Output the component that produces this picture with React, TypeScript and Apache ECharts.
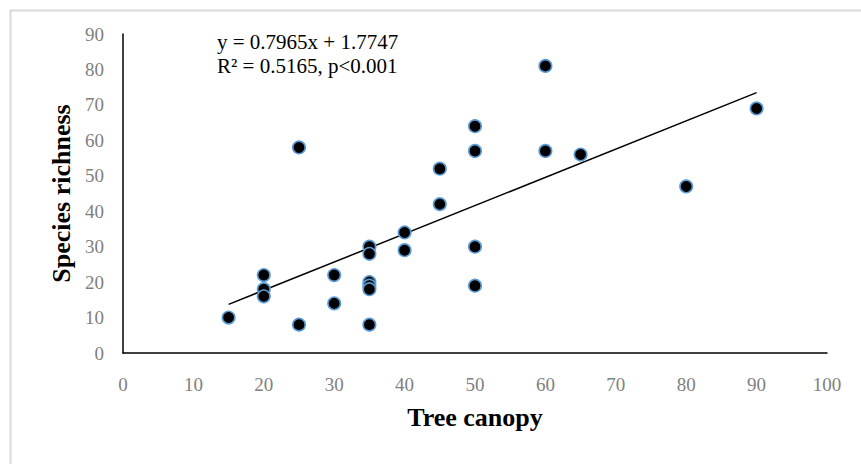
import React, { useEffect, useRef } from "react";
import * as echarts from "echarts";

// Tree canopy (%) and species richness per plot
const canopy = [15, 20, 20, 20, 25, 25, 30, 30, 35, 35, 35, 35, 35, 35, 40, 40, 45, 45, 50, 50, 50, 50, 60, 60, 65, 80, 90];
const richness = [10, 22, 18, 16, 58, 8, 22, 14, 30, 28, 20, 19, 18, 8, 34, 29, 52, 42, 64, 57, 30, 19, 81, 57, 56, 47, 69];

// Linear fit reported on the chart
const slope = 0.7965;
const intercept = 1.7747;
const fitRange = [15, 90];
const equationLines = ["y = 0.7965x + 1.7747", "R² = 0.5165, p<0.001"];

const xTicks = { min: 0, max: 100, interval: 10 };
const yTicks = { min: 0, max: 90, interval: 10 };

const SERIF = "'Liberation Serif', 'Times New Roman', serif";

export default function App() {
  const ref = useRef<HTMLDivElement>(null);

  useEffect(() => {
    document.body.style.margin = "0";
    if (!ref.current) return;
    const chart = echarts.init(ref.current, null, { renderer: "svg" });

    const points = canopy.map((x, i) => [x, richness[i]]);
    const fitLine = fitRange.map((x) => [x, slope * x + intercept]);

    chart.setOption({
      animation: false,
      backgroundColor: "#ffffff",
      grid: { left: 123, right: 34, top: 34, bottom: 111, containLabel: false },
      xAxis: {
        type: "value",
        min: xTicks.min,
        max: xTicks.max,
        interval: xTicks.interval,
        name: "Tree canopy",
        nameLocation: "middle",
        nameGap: 51,
        nameTextStyle: { fontFamily: SERIF, fontWeight: "bold", fontSize: 26, color: "#000000" },
        axisLine: { show: true, lineStyle: { color: "#000000", width: 1.5 } },
        axisTick: { show: false },
        splitLine: { show: false },
        axisLabel: { fontFamily: SERIF, fontSize: 19, color: "#808080", margin: 22 },
      },
      yAxis: {
        type: "value",
        min: yTicks.min,
        max: yTicks.max,
        interval: yTicks.interval,
        name: "Species richness",
        nameLocation: "middle",
        nameGap: 49,
        nameRotate: 90,
        nameTextStyle: { fontFamily: SERIF, fontWeight: "bold", fontSize: 26, color: "#000000" },
        axisLine: { show: true, lineStyle: { color: "#000000", width: 1.5 } },
        axisTick: { show: false },
        splitLine: { show: false },
        axisLabel: { fontFamily: SERIF, fontSize: 19, color: "#808080", margin: 19 },
      },
      graphic: [
        {
          type: "rect",
          left: 8,
          top: 8,
          shape: { x: 0, y: 0, width: 880, height: 480 },
          style: { fill: "none", stroke: "#d9d9d9", lineWidth: 2 },
          silent: true,
        },
        ...equationLines.map((line, i) => ({
          type: "text",
          left: 217,
          top: 31 + i * 24,
          style: {
            text: line,
            fontFamily: SERIF,
            fontSize: 21,
            fill: "#000000",
          },
        })),
      ],
      series: [
        {
          type: "line",
          data: fitLine,
          showSymbol: false,
          symbol: "none",
          lineStyle: { color: "#000000", width: 1.5 },
          z: 1,
          silent: true,
        },
        {
          type: "scatter",
          data: points,
          symbol: "circle",
          symbolSize: 12.5,
          itemStyle: { color: "#000000", borderColor: "#5b9bd5", borderWidth: 1.6, opacity: 1 },
          z: 2,
        },
      ],
    });

    return () => chart.dispose();
  }, []);

  return <div ref={ref} style={{ width: 861, height: 464 }} />;
}
